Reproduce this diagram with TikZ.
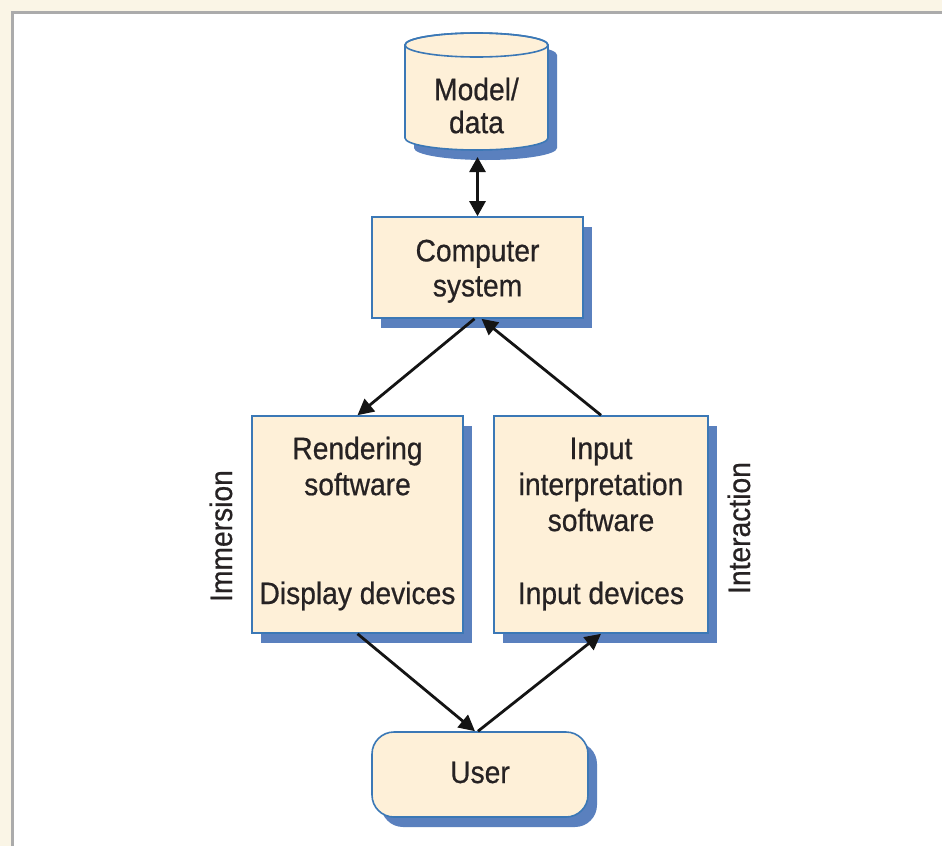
\documentclass[tikz,border=0pt]{standalone}
\usepackage{fontspec}
\newfontfamily\diagfont{Liberation Sans}[FakeStretch=0.91,FakeBold=0.6]
\usetikzlibrary{arrows.meta,shadows}

\definecolor{boxfill}{HTML}{FEF0D8}
\definecolor{boxline}{HTML}{3B78B6}
\definecolor{shade}{HTML}{5A80BE}
\definecolor{inktext}{HTML}{262223}
\definecolor{pagebg}{HTML}{FAF5E6}
\definecolor{framegrey}{HTML}{ABABAB}

\begin{document}
\begin{tikzpicture}[x=1pt,y=-1pt,
  every node/.style={font=\diagfont\fontsize{31}{36}\selectfont, text=inktext, inner sep=0pt},
  blockshadow/.style={drop shadow={shadow xshift=9pt,shadow yshift=-10pt,fill=shade,opacity=1}},
  block/.style={draw=boxline, line width=1.6pt, fill=boxfill, blockshadow, align=center},
  blocktext/.style={align=center},
  sidetext/.style={rotate=90, anchor=base},
  arr/.style={line width=2.8pt, draw=black!92, -{Triangle[length=16pt,width=16pt]}},
  biarr/.style={line width=2.8pt, draw=black!92, {Triangle[length=15pt,width=16pt]}-{Triangle[length=15pt,width=16pt]}}
]
% page and frame
\useasboundingbox (0,0) rectangle (942,846);
\fill[pagebg] (0,0) rectangle (942,846);
\fill[white] (13,13) rectangle (942,846);
\draw[framegrey, line width=2.5pt] (12.5,846) -- (12.5,12.5) -- (942,12.5);

% model / data store (cylinder)
\path[fill=boxfill, draw=boxline, line width=1.6pt, blockshadow]
  (405,45) -- (405,138)
  arc[start angle=180, end angle=0, x radius=71.5, y radius=12]
  -- (548,45)
  arc[start angle=0, end angle=-180, x radius=71.5, y radius=12] -- cycle;
\draw[boxline, line width=1.6pt] (476.5,45) ellipse[x radius=71.5, y radius=12];
\node[blocktext, anchor=north, font=\diagfont\fontsize{31}{33}\selectfont] (model) at (476.5,77.5) {Model/\\data};
\coordinate (mbot) at (477.5,157);

% blocks
\node[block, minimum width=211pt, minimum height=101pt] (comp) at (477.5,267.5) {};
\node[blocktext, anchor=north, font=\diagfont\fontsize{31}{35}\selectfont] (comptext) at (477.5,239.5) {Computer\\system};

\node[block, minimum width=211pt, minimum height=217pt] (rend) at (357.5,524.5) {};
\node[blocktext, anchor=north] (rendtop) at (357.5,436.5) {Rendering\\software};
\node[anchor=base] (rendbot) at (357.5,604) {Display devices};

\node[block, minimum width=214pt, minimum height=217pt] (inp) at (601,524.5) {};
\node[blocktext, anchor=north] (inptop) at (601,437.5) {Input\\interpretation\\software};
\node[anchor=base] (inpbot) at (601,604) {Input devices};

\node[block, rounded corners=22pt, minimum width=216pt, minimum height=85pt] (user) at (480,774.5) {};
\node[anchor=base] (usertext) at (480,783) {User};

% side labels
\node[sidetext] (imm) at (232,536) {Immersion};
\node[sidetext] (inter) at (750,528) {Interaction};

% connectors
\draw[biarr] (mbot) -- (comp.north);
\draw[arr] ([xshift=-3pt]comp.south) -- (rend.north);
\draw[arr] (inp.north) -- ([xshift=4pt]comp.south);
\draw[arr] (rend.south) -- ([xshift=-5pt]user.north);
\draw[arr] ([xshift=-2pt]user.north) -- (inp.south);
\end{tikzpicture}
\end{document}
